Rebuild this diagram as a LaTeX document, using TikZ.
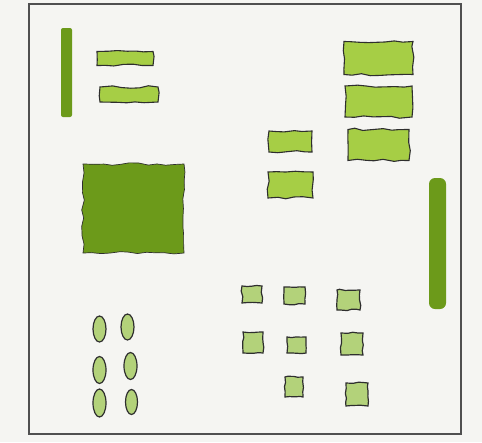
\documentclass[tikz,border=0pt]{standalone}
\usepackage{xcolor}
\usetikzlibrary{positioning,shapes.geometric,decorations.pathmorphing}
\definecolor{Paper}   {HTML}{F5F5F2}
\definecolor{FrameGray}{HTML}{505050}
\definecolor{LeafDark}{HTML}{6C9A1A}
\definecolor{Leaf}    {HTML}{A6CE45}
\definecolor{LeafPale}{HTML}{B3D27A}
\definecolor{Ink}     {HTML}{2E2E2E}

\begin{document}
\begin{tikzpicture}[x=1pt,y=-1pt,
          bar/.style={rectangle,fill=LeafDark,inner sep=0pt,rounded corners=2pt},
          slab/.style={rectangle,draw=Ink,fill=Leaf,line width=1.1pt,inner sep=0pt,
                    decorate,decoration={random steps,segment length=9pt,amplitude=1.3pt}},
          tile/.style={rectangle,draw=Ink,fill=LeafPale,line width=1.2pt,inner sep=0pt,
                    decorate,decoration={random steps,segment length=5pt,amplitude=0.8pt}},
          seed/.style={ellipse,draw=Ink,fill=LeafPale,line width=1.2pt,inner sep=0pt,
                    minimum width=13pt,minimum height=26pt}]
        \pgfmathsetseed{7}
        \fill[Paper] (0,0) rectangle (482,442);
        \draw[FrameGray,line width=1.6pt] (29,4) rectangle (461,434);
        % dark pieces
        \node[bar,minimum width=11pt,minimum height=89pt]  (barL) at ( 66.5, 72.5) {};
        \node[bar,minimum width=17pt,minimum height=131pt,rounded corners=6pt] (barR) at (437.5,243.5) {};
        \node[slab,fill=LeafDark,line width=0.7pt,minimum width=101pt,minimum height=89pt] (block) at (133.5,208.5) {};
        % wavy slabs
        \node[slab,minimum width=56pt,minimum height=14pt] (slab1) at (125, 58.5) {};
        \node[slab,minimum width=58pt,minimum height=15pt] (slab2) at (129, 94.5) {};
        \node[slab,minimum width=69pt,minimum height=33pt] (slabA) at (378.5, 58) {};
        \node[slab,minimum width=67pt,minimum height=31pt] (slabB) at (378.5,101.5) {};
        \node[slab,minimum width=61pt,minimum height=31pt] (slabC) at (378.5,145) {};
        \node[slab,minimum width=43pt,minimum height=21pt] (slabD) at (290.5,141.5) {};
        \node[slab,minimum width=45pt,minimum height=26pt] (slabE) at (290.5,185) {};
        % small tiles
        \node[tile,minimum width=20pt,minimum height=17pt] (t1) at (252,294.5) {};
        \node[tile,minimum width=21pt,minimum height=17pt] (t2) at (294.5,295.5) {};
        \node[tile,minimum width=23pt,minimum height=20pt] (t3) at (348.5,300) {};
        \node[tile,minimum width=20pt,minimum height=21pt] (t4) at (253,342.5) {};
        \node[tile,minimum width=19pt,minimum height=16pt] (t5) at (296.5,345) {};
        \node[tile,minimum width=22pt,minimum height=22pt] (t6) at (352,344) {};
        \node[tile,minimum width=18pt,minimum height=20pt] (t7) at (294,387) {};
        \node[tile,minimum width=22pt,minimum height=23pt] (t8) at (357,394.5) {};
        % seeds
        \node[seed] (s1) at ( 99.5,329) {};
        \node[seed] (s2) at (127.5,327) {};
        \node[seed,minimum height=27pt] (s3) at ( 99.5,370) {};
        \node[seed,minimum height=27pt] (s4) at (130.5,366) {};
        \node[seed,minimum height=28pt] (s5) at ( 99.5,403) {};
        \node[seed,minimum width=12pt,minimum height=25pt] (s6) at (131.5,402) {};
      \end{tikzpicture}
\end{document}
